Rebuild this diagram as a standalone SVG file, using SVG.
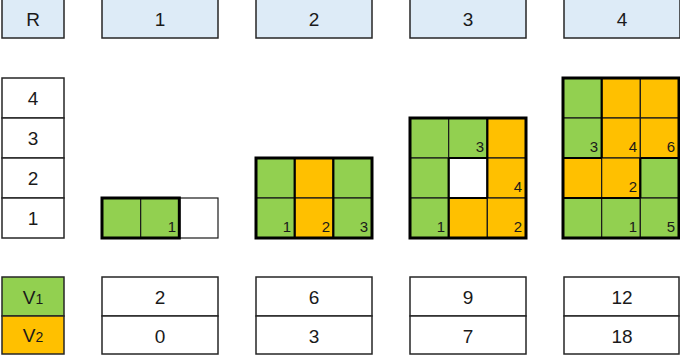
<svg xmlns="http://www.w3.org/2000/svg" width="680" height="356" viewBox="0 0 680 356">
<style>
.hdr{fill:#DDEBF7;stroke:#262626;stroke-width:1.5}
.box{fill:#FFFFFF;stroke:#262626;stroke-width:1.5}
.g{fill:#92D050;stroke:#1a1a1a;stroke-width:1.2}
.o{fill:#FFC000;stroke:#1a1a1a;stroke-width:1.2}
.w{fill:#FFFFFF;stroke:#1a1a1a;stroke-width:1.2}
.thick{fill:none;stroke:#000;stroke-width:2.2}
.outer{fill:none;stroke:#000;stroke-width:3}
.t{font-family:"Liberation Sans",Arial,sans-serif;font-size:19px;fill:#1a1a1a;text-anchor:middle;dominant-baseline:central}
.lg{font-family:"Liberation Sans",Arial,sans-serif;font-size:19px;fill:#1a1a1a;text-anchor:middle}
.n{font-family:"Liberation Sans",Arial,sans-serif;font-size:15px;fill:#1a1a1a;text-anchor:end}
</style>
<rect width="680" height="356" fill="#FFFFFF"/>
<g id="headers">
<rect class="hdr" x="2" y="-1" width="62" height="39"/><text class="t" x="33" y="19">R</text>
<rect class="hdr" x="102" y="-1" width="116" height="39"/><text class="t" x="160" y="19">1</text>
<rect class="hdr" x="256" y="-1" width="116" height="39"/><text class="t" x="314" y="19">2</text>
<rect class="hdr" x="410" y="-1" width="116" height="39"/><text class="t" x="468" y="19">3</text>
<rect class="hdr" x="564" y="-1" width="116" height="39"/><text class="t" x="622" y="19">4</text>
</g>
<g id="rowlabels">
<rect class="box" x="2" y="78" width="62" height="40"/><text class="t" x="33" y="98">4</text>
<rect class="box" x="2" y="118" width="62" height="40"/><text class="t" x="33" y="138">3</text>
<rect class="box" x="2" y="158" width="62" height="40"/><text class="t" x="33" y="178">2</text>
<rect class="box" x="2" y="198" width="62" height="40"/><text class="t" x="33" y="218">1</text>
</g>
<g id="grid1">
<rect class="g" x="102" y="198" width="38.67" height="40"/>
<rect class="g" x="140.67" y="198" width="38.67" height="40"/>
<rect class="w" x="179.33" y="198" width="38.67" height="40"/>
<rect class="outer" x="102" y="198" width="77.33" height="40"/>
<text class="n" x="176" y="232">1</text>
</g>
<g id="grid2">
<rect class="g" x="256" y="158" width="38.67" height="40"/>
<rect class="o" x="294.67" y="158" width="38.67" height="40"/>
<rect class="g" x="333.33" y="158" width="38.67" height="40"/>
<rect class="g" x="256" y="198" width="38.67" height="40"/>
<rect class="o" x="294.67" y="198" width="38.67" height="40"/>
<rect class="g" x="333.33" y="198" width="38.67" height="40"/>
<path class="thick" d="M294.67 158V238M333.33 158V238"/>
<rect class="outer" x="256" y="158" width="116" height="80"/>
<text class="n" x="291" y="232">1</text>
<text class="n" x="330" y="232">2</text>
<text class="n" x="368" y="232">3</text>
</g>
<g id="grid3">
<rect class="g" x="410" y="118" width="38.67" height="40"/>
<rect class="g" x="448.67" y="118" width="38.67" height="40"/>
<rect class="o" x="487.33" y="118" width="38.67" height="40"/>
<rect class="g" x="410" y="158" width="38.67" height="40"/>
<rect class="w" x="448.67" y="158" width="38.67" height="40"/>
<rect class="o" x="487.33" y="158" width="38.67" height="40"/>
<rect class="g" x="410" y="198" width="38.67" height="40"/>
<rect class="o" x="448.67" y="198" width="38.67" height="40"/>
<rect class="o" x="487.33" y="198" width="38.67" height="40"/>
<path class="thick" d="M448.67 158H487.33M448.67 198H487.33M448.67 158V238M487.33 118V198"/>
<rect class="outer" x="410" y="118" width="116" height="120"/>
<text class="n" x="484" y="152">3</text>
<text class="n" x="522" y="192">4</text>
<text class="n" x="445" y="232">1</text>
<text class="n" x="522" y="232">2</text>
</g>
<g id="grid4">
<rect class="g" x="563" y="78" width="38.67" height="40"/>
<rect class="o" x="601.67" y="78" width="38.67" height="40"/>
<rect class="o" x="640.33" y="78" width="38.67" height="40"/>
<rect class="g" x="563" y="118" width="38.67" height="40"/>
<rect class="o" x="601.67" y="118" width="38.67" height="40"/>
<rect class="o" x="640.33" y="118" width="38.67" height="40"/>
<rect class="o" x="563" y="158" width="38.67" height="40"/>
<rect class="o" x="601.67" y="158" width="38.67" height="40"/>
<rect class="g" x="640.33" y="158" width="38.67" height="40"/>
<rect class="g" x="563" y="198" width="38.67" height="40"/>
<rect class="g" x="601.67" y="198" width="38.67" height="40"/>
<rect class="g" x="640.33" y="198" width="38.67" height="40"/>
<path class="thick" d="M601.67 78V158M640.33 158V198M563 158H601.67M640.33 158H679M563 198H640.33"/>
<rect class="outer" x="563" y="78" width="116" height="160"/>
<text class="n" x="598" y="152">3</text>
<text class="n" x="637" y="152">4</text>
<text class="n" x="675" y="152">6</text>
<text class="n" x="637" y="192">2</text>
<text class="n" x="637" y="232">1</text>
<text class="n" x="675" y="232">5</text>
</g>
<g id="legend">
<rect x="2" y="277" width="62" height="39" fill="#92D050" stroke="#262626" stroke-width="1.5"/>
<text class="lg" x="33" y="304">V<tspan font-size="14">1</tspan></text>
<rect x="2" y="316" width="62" height="38" fill="#FFC000" stroke="#262626" stroke-width="1.5"/>
<text class="lg" x="33" y="342">V<tspan font-size="14">2</tspan></text>
</g>
<g id="values">
<rect class="box" x="102" y="277" width="116" height="39"/><text class="t" x="160" y="297">2</text>
<rect class="box" x="102" y="316" width="116" height="38"/><text class="t" x="160" y="336">0</text>
<rect class="box" x="256" y="277" width="116" height="39"/><text class="t" x="314" y="297">6</text>
<rect class="box" x="256" y="316" width="116" height="38"/><text class="t" x="314" y="336">3</text>
<rect class="box" x="410" y="277" width="116" height="39"/><text class="t" x="468" y="297">9</text>
<rect class="box" x="410" y="316" width="116" height="38"/><text class="t" x="468" y="336">7</text>
<rect class="box" x="564" y="277" width="115" height="39"/><text class="t" x="622" y="297">12</text>
<rect class="box" x="564" y="316" width="115" height="38"/><text class="t" x="622" y="336">18</text>
</g>
</svg>
